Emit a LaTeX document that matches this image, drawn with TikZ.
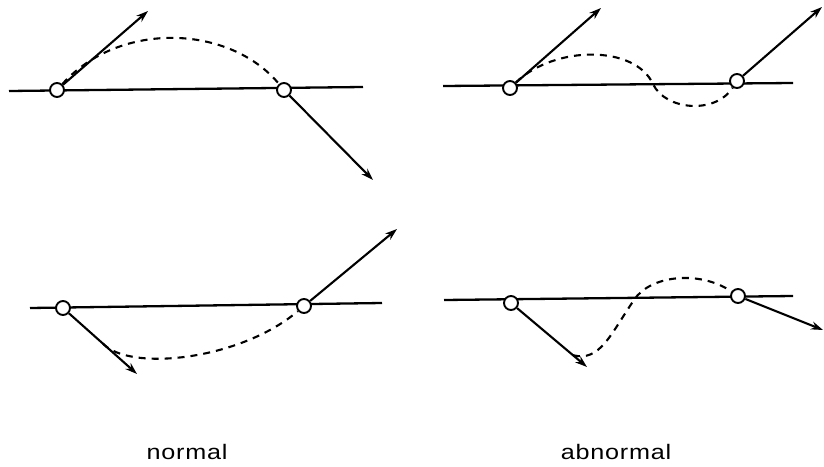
\documentclass[tikz,border=0pt]{standalone}
\usepackage{fontspec}
\setmainfont{Liberation Sans}
\usetikzlibrary{arrows.meta}
\begin{document}
\begin{tikzpicture}[
        x=1pt, y=-1pt,
        ring/.style={
            circle,
            draw=black,
            fill=white,
            line width=1.9pt,
            minimum size=14pt,
            inner sep=0pt
        },
        track/.style={line width=2.3pt},
        vec/.style={line width=2.1pt, -{Stealth[length=12pt,width=8pt]}},
        orbit/.style={line width=2.1pt, dash pattern=on 7pt off 6pt},
        caption/.style={font=\fontsize{21}{25}\selectfont\addfontfeatures{LetterSpace=3}, xscale=1.2, anchor=base}
    ]
        \useasboundingbox (0,0) rectangle (824,466);

        % Punti di appoggio: estremi delle rette e punte dei vettori
        \coordinate (l1a) at (9,91);   \coordinate (l1b) at (363,87);
        \coordinate (l2a) at (443,86); \coordinate (l2b) at (793,83);
        \coordinate (l3a) at (30,308); \coordinate (l3b) at (382,303);
        \coordinate (l4a) at (444,300); \coordinate (l4b) at (793,296);
        \coordinate (t1) at (148,11);  \coordinate (t2) at (373,180);
        \coordinate (t3) at (601,8);   \coordinate (t4) at (822,7);
        \coordinate (t5) at (137,374); \coordinate (t6) at (397,229);
        \coordinate (t7) at (587,367); \coordinate (t8) at (823,330);

        % Rette orizzontali
        \draw[track] (l1a) -- (l1b);
        \draw[track] (l2a) -- (l2b);
        \draw[track] (l3a) -- (l3b);
        \draw[track] (l4a) -- (l4b);

        % Cerchi sulle rette
        \node[ring] (c1) at (57,90) {};
        \node[ring] (c2) at (284,90) {};
        \node[ring] (c3) at (510,88) {};
        \node[ring] (c4) at (737,81) {};
        \node[ring] (c5) at (63,308) {};
        \node[ring] (c6) at (304,306) {};
        \node[ring] (c7) at (511,303) {};
        \node[ring] (c8) at (738,296) {};

        % Vettori
        \draw[vec] (c1) -- (t1);
        \draw[vec] (c2) -- (t2);
        \draw[vec] (c3) -- (t3);
        \draw[vec] (c4) -- (t4);
        \draw[vec] (c5) -- (t5) coordinate[pos=0.5] (s5);
        \draw[vec] (c6) -- (t6);
        \draw[vec] (c7) -- (t7) coordinate[pos=0.8] (s7);
        \draw[vec] (c8) -- (t8);

        % Traiettorie tratteggiate
        \draw[orbit] (c1) .. controls (120,20) and (230,25) .. (c2);
        \draw[orbit] (c3) .. controls (555,45) and (635,45) .. (653,84)
            .. controls (665,110) and (715,115) .. (c4);
        \draw[orbit] (s5) .. controls (130,372) and (240,360) .. (c6);
        \draw[orbit] (s7) .. controls (600,362) and (610,335) .. (634,300)
            .. controls (650,275) and (700,270) .. (c8);

        % Didascalie
        \node[caption] (normal) at (187,459) {normal};
        \node[caption] (abnormal) at (616,459) {abnormal};
    \end{tikzpicture}
\end{document}
